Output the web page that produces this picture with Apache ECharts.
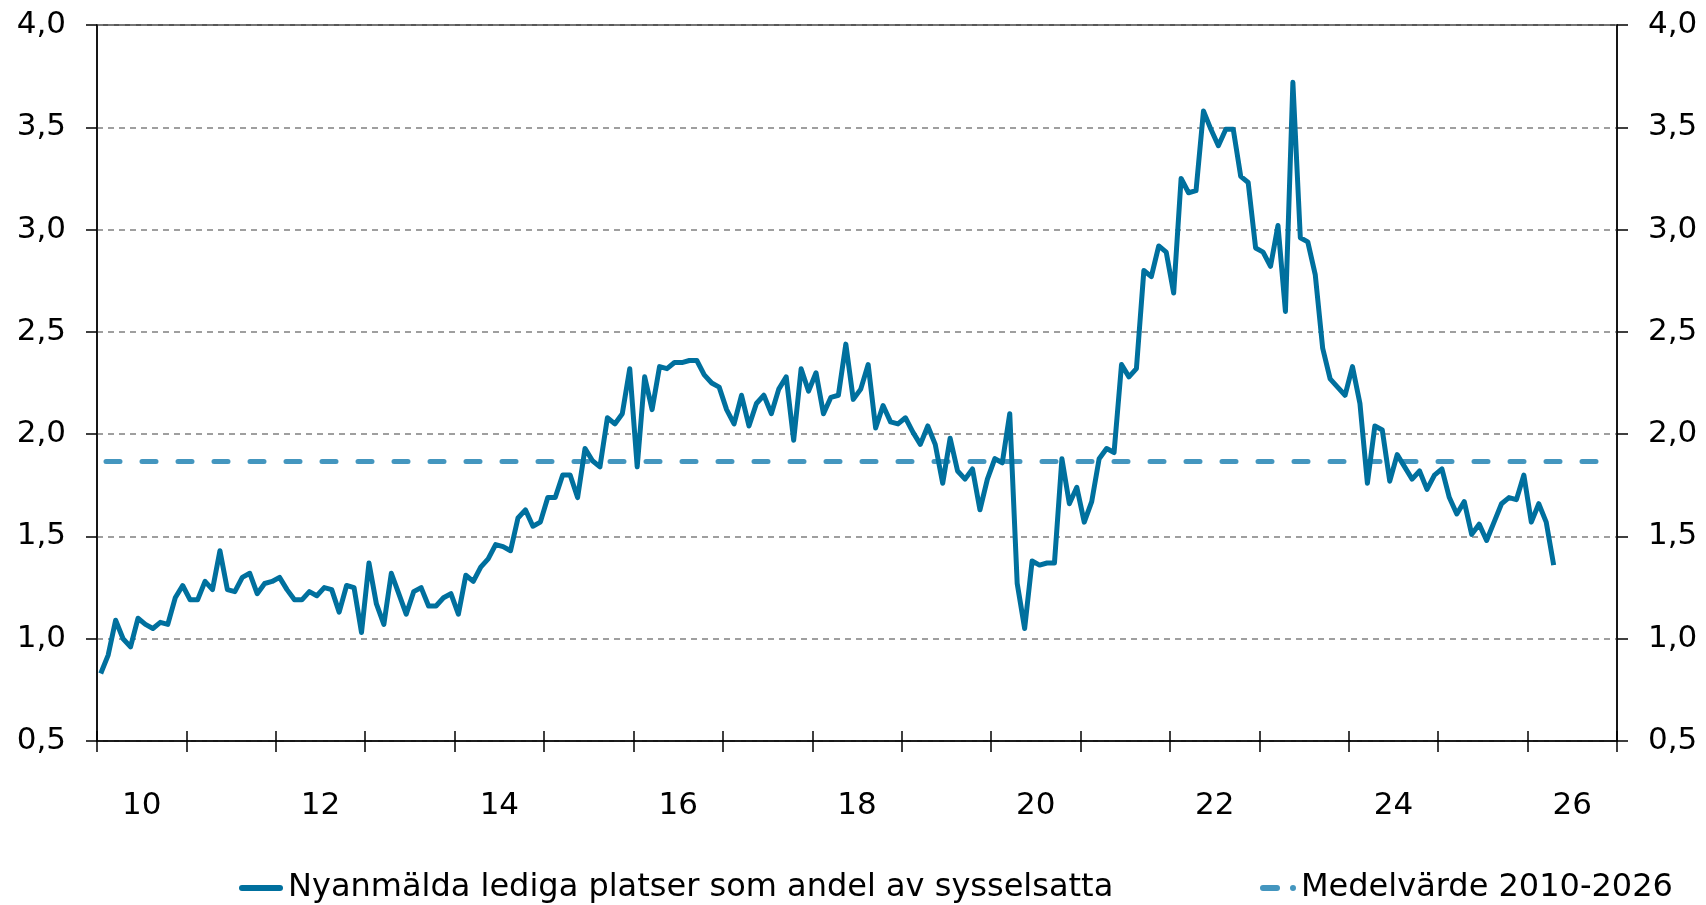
<!DOCTYPE html>
<html>
<head>
<meta charset="utf-8">
<script src="https://cdn.jsdelivr.net/npm/echarts@6/dist/echarts.min.js"></script>
<style>
  html, body { margin: 0; padding: 0; background: #fff; }
  #chartRef { width: 1706px; height: 905px; }
</style>
</head>
<body>
<div id="chartRef"></div>
<script>
// år på x-axeln (etikett varannat år)
const years = ['10', '11', '12', '13', '14', '15', '16', '17', '18', '19', '20', '21', '22', '23', '24', '25', '26']

// månadsvärden jan 2010 - apr 2026, procent
const vacancyShare = [
  0.83, 0.92, 1.09, 1.00, 0.96, 1.10, 1.07, 1.05, 1.08, 1.07, 1.20, 1.26,
  1.19, 1.19, 1.28, 1.24, 1.43, 1.24, 1.23, 1.30, 1.32, 1.22, 1.27, 1.28,
  1.30, 1.24, 1.19, 1.19, 1.23, 1.21, 1.25, 1.24, 1.13, 1.26, 1.25, 1.03,
  1.37, 1.17, 1.07, 1.32, 1.22, 1.12, 1.23, 1.25, 1.16, 1.16, 1.20, 1.22,
  1.12, 1.31, 1.28, 1.35, 1.39, 1.46, 1.45, 1.43, 1.59, 1.63, 1.55, 1.57,
  1.69, 1.69, 1.80, 1.80, 1.69, 1.93, 1.87, 1.84, 2.08, 2.05, 2.10, 2.32,
  1.84, 2.28, 2.12, 2.33, 2.32, 2.35, 2.35, 2.36, 2.36, 2.29, 2.25, 2.23,
  2.12, 2.05, 2.19, 2.04, 2.15, 2.19, 2.10, 2.22, 2.28, 1.97, 2.32, 2.21,
  2.30, 2.10, 2.18, 2.19, 2.44, 2.17, 2.22, 2.34, 2.03, 2.14, 2.06, 2.05,
  2.08, 2.01, 1.95, 2.04, 1.95, 1.76, 1.98, 1.82, 1.78, 1.83, 1.63, 1.78,
  1.88, 1.86, 2.10, 1.27, 1.05, 1.38, 1.36, 1.37, 1.37, 1.88, 1.66, 1.74,
  1.57, 1.67, 1.88, 1.93, 1.91, 2.34, 2.28, 2.32, 2.80, 2.77, 2.92, 2.89,
  2.69, 3.25, 3.18, 3.19, 3.58, 3.49, 3.41, 3.49, 3.49, 3.26, 3.23, 2.91,
  2.89, 2.82, 3.02, 2.60, 3.72, 2.96, 2.94, 2.78, 2.42, 2.27, 2.23, 2.19,
  2.33, 2.15, 1.76, 2.04, 2.02, 1.77, 1.90, 1.84, 1.78, 1.82, 1.73, 1.80,
  1.83, 1.69, 1.61, 1.67, 1.51, 1.56, 1.48, 1.57, 1.66, 1.69, 1.68, 1.80,
  1.57, 1.66, 1.57, 1.36
]

// medelvärde 2010-2026
const meanLevel = [1.866, 1.866]

const seriesNames = ['Nyanmälda lediga platser som andel av sysselsatta', 'Medelvärde 2010-2026']

const fontFamily = 'Verdana, "DejaVu Sans", sans-serif'
const monthsTotal = years.length * 12
const lineColor = '#00709e'
const meanColor = '#4496bf'

const myChart = echarts.init(document.getElementById('chartRef'))

const yAxisBase = {
  type: 'value',
  min: 0.5,
  max: 4,
  interval: 0.5,
  axisLine: { show: true, lineStyle: { color: '#000', width: 1.5 } },
  axisTick: { show: true, length: 11, lineStyle: { color: '#000', width: 1.5 } },
  axisLabel: {
    color: '#000',
    fontSize: 31,
    fontFamily: fontFamily,
    margin: 31,
    formatter: v => v.toFixed(1).replace('.', ',')
  }
}

const option = {
  animation: false,
  backgroundColor: '#fff',
  grid: {
    left: 97,
    right: 89,
    top: 25,
    bottom: 164,
    show: true,
    borderColor: '#222',
    borderWidth: 1.5
  },
  legend: [
    {
      data: [{ name: seriesNames[0], icon: 'path://M3,0H41A3,3 0 0 1 41,6H3A3,3 0 0 1 3,0Z' }],
      left: 234,
      top: 867,
      itemWidth: 44,
      itemHeight: 6,
      itemGap: 5,
      textStyle: { color: '#000', fontSize: 32, fontFamily: fontFamily }
    },
    {
      // streck + prick som i originalet
      data: [{ name: seriesNames[1], icon: 'path://M3,0H17A3,3 0 0 1 17,6H3A3,3 0 0 1 3,0Z M33,0A3,3 0 0 1 33,6A3,3 0 0 1 33,0Z' }],
      left: 1255,
      top: 867,
      itemWidth: 36,
      itemHeight: 6,
      textStyle: { color: '#000', fontSize: 32, fontFamily: fontFamily }
    }
  ],
  xAxis: [
    {
      type: 'category',
      data: years,
      position: 'bottom',
      boundaryGap: true,
      axisLine: { show: true, lineStyle: { color: '#000', width: 1.5 } },
      axisTick: { show: true, interval: 0, length: 11, lineStyle: { color: '#000', width: 1.5 } },
      axisLabel: { interval: 1, color: '#000', fontSize: 31, fontFamily: fontFamily, margin: 49 },
      splitLine: { show: false }
    },
    {
      // månadsskala för linjerna, ger också tickens övre halva
      type: 'value',
      position: 'bottom',
      min: 0,
      max: monthsTotal,
      interval: 12,
      axisLine: { show: false },
      axisTick: { show: true, inside: true, length: 10, lineStyle: { color: '#000', width: 1.5 } },
      axisLabel: { show: false },
      splitLine: { show: false }
    }
  ],
  yAxis: [
    Object.assign({}, yAxisBase, {
      position: 'left',
      splitLine: { show: true, lineStyle: { color: '#808080', width: 1.5, type: [6, 5] } }
    }),
    Object.assign({}, yAxisBase, {
      position: 'right',
      splitLine: { show: false }
    })
  ],
  series: [
    {
      name: seriesNames[1],
      type: 'line',
      xAxisIndex: 1,
      yAxisIndex: 0,
      symbol: 'none',
      data: [[0, meanLevel[0]], [monthsTotal - 1, meanLevel[1]]],
      lineStyle: { color: meanColor, width: 5, type: [14, 22], dashOffset: 27, cap: 'round' },
      itemStyle: { color: meanColor },
      z: 2
    },
    {
      name: seriesNames[0],
      type: 'line',
      xAxisIndex: 1,
      yAxisIndex: 0,
      symbol: 'none',
      data: vacancyShare.map((v, i) => [i + 0.5, v]),
      lineStyle: { color: lineColor, width: 5, join: 'round' },
      itemStyle: { color: lineColor },
      z: 3
    }
  ]
}

option && myChart.setOption(option)
</script>
</body>
</html>
